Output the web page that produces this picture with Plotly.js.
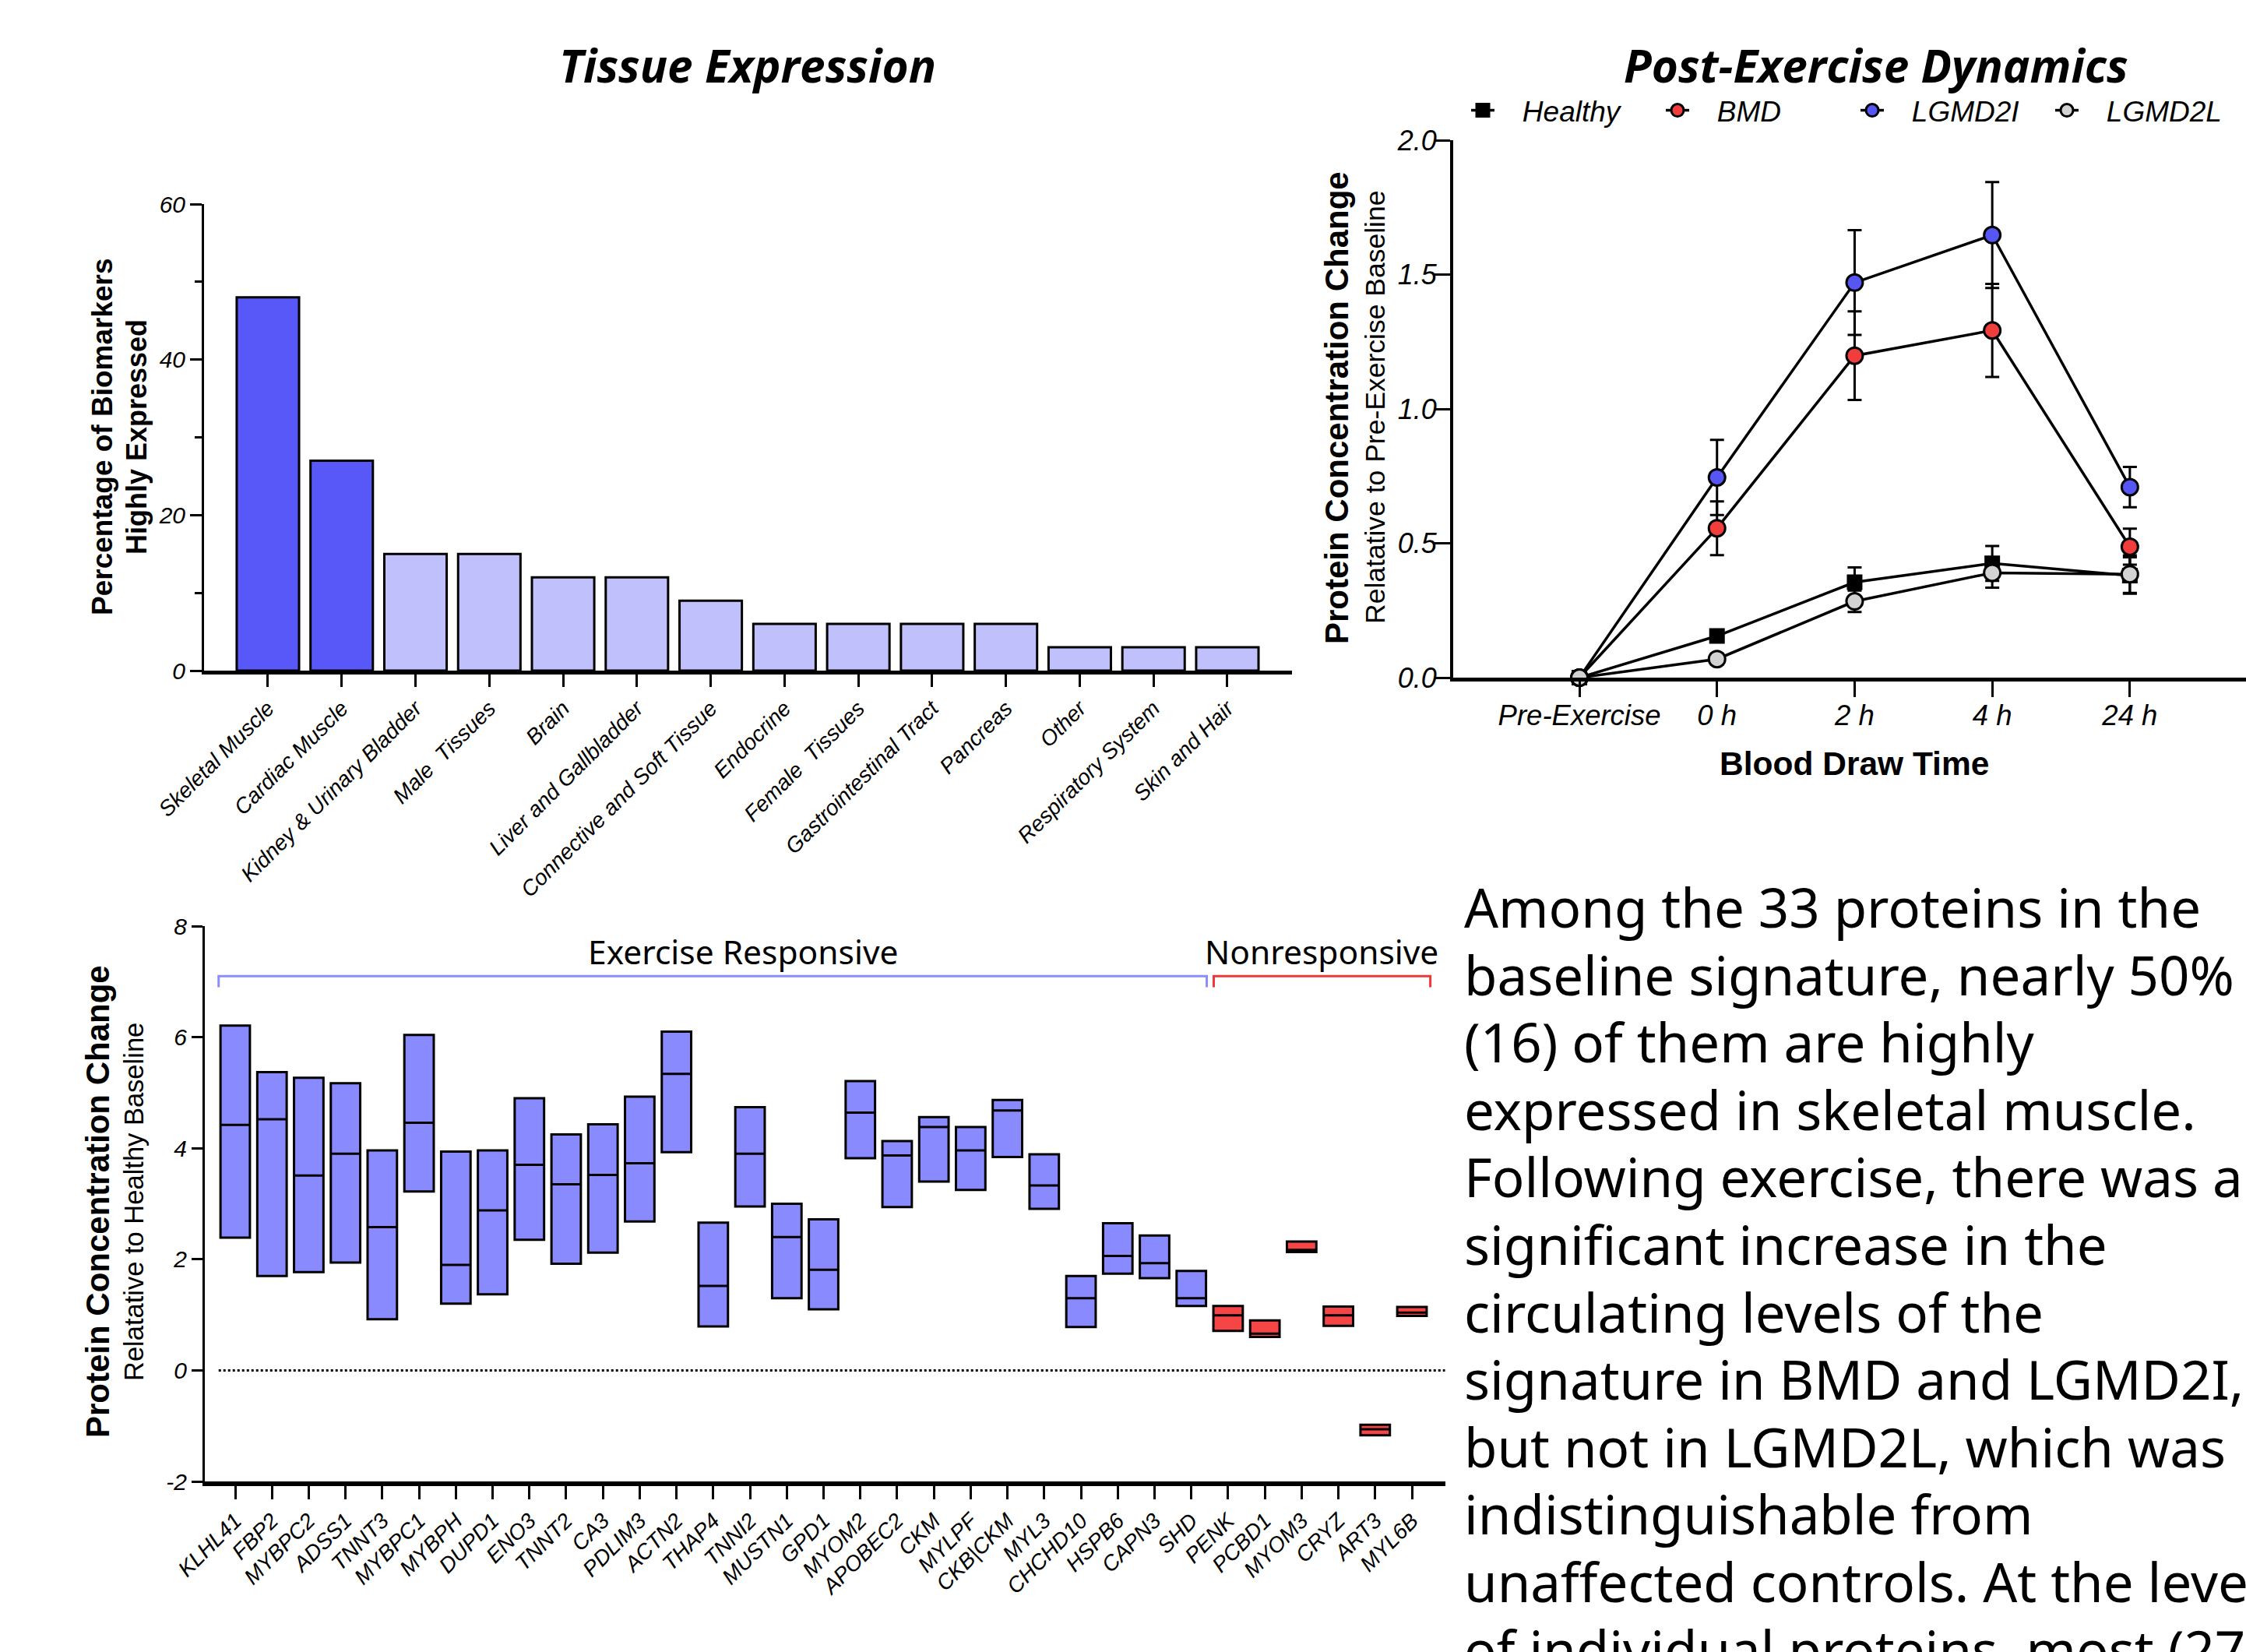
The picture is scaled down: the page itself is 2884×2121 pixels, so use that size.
<!DOCTYPE html>
<html>
<head>
<meta charset="utf-8">
<script src="https://cdn.plot.ly/plotly-3.0.1.min.js"></script>
<style>html,body{margin:0;padding:0;background:#fff;}#chart{width:2884px;height:2121px;}</style>
</head>
<body>
<div id="chart"></div>
<script>
// ---------- Tissue expression (top-left) ----------
const tissueCats = ['Skeletal Muscle', 'Cardiac Muscle', 'Kidney & Urinary Bladder', 'Male  Tissues', 'Brain',
  'Liver and Gallbladder', 'Connective and Soft Tissue', 'Endocrine', 'Female  Tissues', 'Gastrointestinal Tract',
  'Pancreas', 'Other', 'Respiratory System', 'Skin and Hair'];
const tissuePct = [48, 27, 15, 15, 12, 12, 9, 6, 6, 6, 6, 3, 3, 3];
const tissueHighlighted = [true, true, false, false, false, false, false, false, false, false, false, false, false, false];

// ---------- Post-exercise dynamics (top-right) ----------
const timeCats = ['Pre-Exercise', '0 h', '2 h', '4 h', '24 h'];
const groupNames = ['Healthy', 'BMD', 'LGMD2I', 'LGMD2L'];
const healthyMean = [0, 0.155, 0.355, 0.425, 0.38];
const healthyErr  = [0, 0.018, 0.055, 0.065, 0.068];
const bmdMean     = [0, 0.556, 1.198, 1.292, 0.487];
const bmdErr      = [0, 0.10, 0.165, 0.173, 0.067];
const lgmd2iMean  = [0, 0.745, 1.47, 1.647, 0.709];
const lgmd2iErr   = [0, 0.14, 0.195, 0.197, 0.075];
const lgmd2lMean  = [0, 0.069, 0.284, 0.39, 0.385];
const lgmd2lErr   = [0, 0.02, 0.04, 0.055, 0.07];

// ---------- Protein concentration change (bottom-left) ----------
const respNames = ['KLHL41', 'FBP2', 'MYBPC2', 'ADSS1', 'TNNT3', 'MYBPC1', 'MYBPH', 'DUPD1', 'ENO3', 'TNNT2',
  'CA3', 'PDLIM3', 'ACTN2', 'THAP4', 'TNNI2', 'MUSTN1', 'GPD1', 'MYOM2', 'APOBEC2', 'CKM', 'MYLPF', 'CKB|CKM',
  'MYL3', 'CHCHD10', 'HSPB6', 'CAPN3', 'SHD'];
const respLow  = [2.39, 1.70, 1.77, 1.94, 0.92, 3.22, 1.20, 1.37, 2.35, 1.92, 2.12, 2.68, 3.93, 0.79, 2.95, 1.30, 1.10, 3.82, 2.94, 3.40, 3.25, 3.84, 2.91, 0.78, 1.74, 1.66, 1.16];
const respMid  = [4.42, 4.52, 3.51, 3.90, 2.58, 4.46, 1.90, 2.88, 3.70, 3.35, 3.52, 3.73, 5.34, 1.52, 3.90, 2.40, 1.81, 4.64, 3.87, 4.38, 3.96, 4.68, 3.33, 1.30, 2.06, 1.93, 1.30];
const respHigh = [6.21, 5.37, 5.27, 5.17, 3.96, 6.04, 3.94, 3.96, 4.90, 4.25, 4.43, 4.93, 6.10, 2.66, 4.74, 3.00, 2.72, 5.21, 4.13, 4.56, 4.38, 4.87, 3.89, 1.70, 2.65, 2.43, 1.79];
const nonNames = ['PENK', 'PCBD1', 'MYOM3', 'CRYZ', 'ART3', 'MYL6B'];
const nonLow  = [0.71, 0.60, 2.13, 0.80, -1.17, 0.98];
const nonMid  = [0.99, 0.66, 2.17, 0.99, -1.06, 1.04];
const nonHigh = [1.16, 0.90, 2.32, 1.15, -0.98, 1.14];
const geneNames = respNames.concat(nonNames);
const changeTickVals = [-2, 0, 2, 4, 6, 8];
const changeTickText = ['-2', '0', '2', '4', '6', '8'];

const paragraphLines = [
  'Among the 33 proteins in the',
  'baseline signature, nearly 50%',
  '(16) of them are highly',
  'expressed in skeletal muscle.',
  'Following exercise, there was a',
  'significant increase in the',
  'circulating levels of the',
  'signature in BMD and LGMD2I,',
  'but not in LGMD2L, which was',
  'indistinguishable from',
  'unaffected controls. At the level',
  'of individual proteins, most (27'
];

// ---------- styling ----------
const W = 2884, H = 2121;
const px = v => v / W;
const py = v => 1 - v / H;
const ARIAL = 'Liberation Sans, Arial, sans-serif';
const tickIt = (s) => ({family: ARIAL, size: s, color: 'black', style: 'italic'});
const legendPad = '\u00a0\u00a0\u00a0';

const traces = [];
traces.push({
  type: 'bar', x: tissueCats, y: tissuePct, xaxis: 'x', yaxis: 'y', width: 0.845,
  marker: {color: tissueHighlighted.map(h => h ? '#5858f8' : '#c0c0fc'), line: {color: 'black', width: 3}},
  showlegend: false, hoverinfo: 'x+y'
});

function series(name, y, err, symbol, color, size) {
  return {
    type: 'scatter', mode: 'lines+markers', name: legendPad + name, x: timeCats, y: y, xaxis: 'x2', yaxis: 'y2',
    line: {color: 'black', width: 3.5},
    marker: {symbol: symbol, size: size, color: color, line: {color: 'black', width: 3}},
    error_y: {type: 'data', array: err, visible: true, color: 'black', thickness: 3, width: 9},
    cliponaxis: false
  };
}
traces.push(series(groupNames[0], healthyMean, healthyErr, 'square', 'black', 17));
traces.push(series(groupNames[1], bmdMean, bmdErr, 'circle', '#f23d3d', 21));
traces.push(series(groupNames[2], lgmd2iMean, lgmd2iErr, 'circle', '#5656f5', 21));
traces.push(series(groupNames[3], lgmd2lMean, lgmd2lErr, 'circle', '#d2d2d2', 21));

function boxes(names, lo, mid, hi, fill) {
  return {
    type: 'box', x: names, q1: lo, median: mid, q3: hi, lowerfence: lo, upperfence: hi,
    xaxis: 'x3', yaxis: 'y3', width: 0.8, fillcolor: fill, line: {color: 'black', width: 3},
    boxpoints: false, showlegend: false, hoverinfo: 'x'
  };
}
traces.push(boxes(respNames, respLow, respMid, respHigh, '#8a8aff'));
traces.push(boxes(nonNames, nonLow, nonMid, nonHigh, '#f54545'));

const axCommon = {showgrid: false, zeroline: false, showline: true, linecolor: 'black', ticks: 'outside',
  tickcolor: 'black', tickwidth: 3, fixedrange: true};

const annotations = [
  {text: '<b><i>Tissue Expression</i></b>', xref: 'paper', yref: 'paper', x: px(960), y: py(83),
    xanchor: 'center', yanchor: 'middle', showarrow: false, font: {family: 'Open Sans', size: 58.5, color: 'black'}},
  {text: '<b><i>Post-Exercise Dynamics</i></b>', xref: 'paper', yref: 'paper', x: px(2409), y: py(83),
    xanchor: 'center', yanchor: 'middle', showarrow: false, font: {family: 'Open Sans', size: 58.5, color: 'black'}},
  {text: '<b>Percentage of Biomarkers</b>', xref: 'paper', yref: 'paper', x: px(132), y: py(561), textangle: -90,
    xanchor: 'center', yanchor: 'middle', showarrow: false, font: {family: ARIAL, size: 37, color: 'black'}},
  {text: '<b>Highly Expressed</b>', xref: 'paper', yref: 'paper', x: px(176), y: py(561), textangle: -90,
    xanchor: 'center', yanchor: 'middle', showarrow: false, font: {family: ARIAL, size: 36, color: 'black'}},
  {text: '<b>Protein Concentration Change</b>', xref: 'paper', yref: 'paper', x: px(1716), y: py(523), textangle: -90,
    xanchor: 'center', yanchor: 'middle', showarrow: false, font: {family: ARIAL, size: 42, color: 'black'}},
  {text: 'Relatative to Pre-Exercise Baseline', xref: 'paper', yref: 'paper', x: px(1766), y: py(523), textangle: -90,
    xanchor: 'center', yanchor: 'middle', showarrow: false, font: {family: ARIAL, size: 35.5, color: 'black'}},
  {text: '<b>Blood Draw Time</b>', xref: 'paper', yref: 'paper', x: px(2381), y: py(980),
    xanchor: 'center', yanchor: 'middle', showarrow: false, font: {family: ARIAL, size: 42.5, color: 'black'}},
  {text: '<b>Protein Concentration Change</b>', xref: 'paper', yref: 'paper', x: px(125), y: py(1543), textangle: -90,
    xanchor: 'center', yanchor: 'middle', showarrow: false, font: {family: ARIAL, size: 42, color: 'black'}},
  {text: 'Relatative to Healthy Baseline', xref: 'paper', yref: 'paper', x: px(172), y: py(1543), textangle: -90,
    xanchor: 'center', yanchor: 'middle', showarrow: false, font: {family: ARIAL, size: 34.5, color: 'black'}},
  {text: 'Exercise Responsive', xref: 'x3', yref: 'y3', x: 13.8, y: 7.54, xanchor: 'center', yanchor: 'middle',
    showarrow: false, font: {family: 'Noto Sans', size: 42.5, color: 'black'}},
  {text: 'Nonresponsive', xref: 'x3', yref: 'y3', x: 29.55, y: 7.54, xanchor: 'center', yanchor: 'middle',
    showarrow: false, font: {family: 'Noto Sans', size: 42.5, color: 'black'}}
];
paragraphLines.forEach((line, i) => {
  annotations.push({text: line, xref: 'paper', yref: 'paper', x: px(1878), y: py(1164 + i * 86.6),
    xanchor: 'left', yanchor: 'middle', align: 'left', showarrow: false,
    font: {family: 'Noto Sans', size: 69, color: 'black'}});
});

const layout = {
  width: W, height: H, margin: {l: 0, r: 0, t: 0, b: 0},
  paper_bgcolor: 'white', plot_bgcolor: 'white', boxmode: 'overlay',
  xaxis: Object.assign({}, axCommon, {domain: [px(262), px(1659)], anchor: 'y', type: 'category',
    range: [-0.865, 13.876], linewidth: 5, ticklen: 16, tickangle: -45, tickfont: tickIt(28)}),
  yaxis: Object.assign({}, axCommon, {domain: [py(861), py(262)], anchor: 'x', range: [0, 60], dtick: 20,
    linewidth: 3, ticklen: 15, tickfont: tickIt(30),
    minor: {dtick: 10, ticks: 'outside', ticklen: 9, tickwidth: 3, tickcolor: 'black', showgrid: false}}),
  xaxis2: Object.assign({}, axCommon, {domain: [px(1866), 1], anchor: 'y2', type: 'category',
    range: [-0.917, 4.844], linewidth: 5, ticklen: 20, ticklabelstandoff: -8, tickfont: tickIt(36.5)}),
  yaxis2: Object.assign({}, axCommon, {domain: [py(870), py(180)], anchor: 'x2', range: [0, 2], dtick: 0.5,
    tickformat: '.1f', linewidth: 4, ticklen: 20, ticklabelstandoff: -10, tickfont: tickIt(36)}),
  xaxis3: Object.assign({}, axCommon, {domain: [px(263), px(1856)], anchor: 'y3', type: 'category',
    categoryorder: 'array', categoryarray: geneNames,
    range: [-0.826, 32.91], linewidth: 6, ticklen: 17, tickangle: -45, tickfont: tickIt(28)}),
  yaxis3: Object.assign({}, axCommon, {domain: [py(1902), py(1189)], anchor: 'x3', range: [-2, 8],
    tickmode: 'array', tickvals: changeTickVals, ticktext: changeTickText,
    linewidth: 3, ticklen: 14, tickfont: tickIt(30)}),
  legend: {orientation: 'h', x: px(1884), xanchor: 'left', y: py(142), yanchor: 'middle', itemwidth: 30,
    font: {family: ARIAL, size: 37, color: 'black', style: 'italic'}, entrywidth: 205, bgcolor: 'rgba(0,0,0,0)'},
  shapes: [
    {type: 'line', xref: 'x3', yref: 'y3', x0: -0.45, x1: 32.9, y0: 0, y1: 0,
      line: {color: 'black', width: 3, dash: 'dot'}},
    {type: 'path', xref: 'x3', yref: 'y3', path: 'M -0.45,6.9 L -0.45,7.1 L 26.42,7.1 L 26.42,6.9',
      line: {color: '#8c8cff', width: 3}},
    {type: 'path', xref: 'x3', yref: 'y3', path: 'M 26.61,6.9 L 26.61,7.1 L 32.5,7.1 L 32.5,6.9',
      line: {color: '#ea3a3a', width: 3}}
  ],
  annotations: annotations
};

Plotly.newPlot('chart', traces, layout, {displayModeBar: false, staticPlot: true});
</script>
</body>
</html>
